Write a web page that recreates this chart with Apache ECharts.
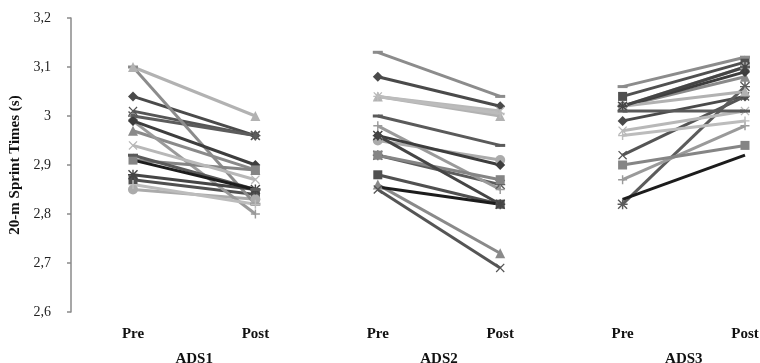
<!DOCTYPE html>
<html>
<head>
<meta charset="utf-8">
<script src="https://cdn.jsdelivr.net/npm/echarts@6/dist/echarts.min.js"></script>
<style>
  html, body { margin: 0; padding: 0; background: #fff; }
  #chart { width: 760px; height: 363px; }
</style>
</head>
<body>
<div id="chart"></div>
<script>
// Phase labels along the bottom axis and the test each pair belongs to
const phaseLabels = ['Pre', 'Post', 'Pre', 'Post', 'Pre', 'Post'];
const testLabels = ['ADS1', 'ADS2', 'ADS3'];

// 20-m sprint times (s), one entry per participant
const ads1Pre  = [3.04, 2.87, 2.97, 3.01, 3.00, 2.85, 2.99, 3.10, 2.99, 2.91, 3.10, 2.94, 2.88, 2.92, 2.86, 2.91];
const ads1Post = [2.96, 2.84, 2.89, 2.96, 2.96, 2.83, 2.80, 2.82, 2.90, 2.89, 3.00, 2.87, 2.85, 2.85, 2.82, 2.85];
const ads2Pre  = [3.08, 2.88, 2.86, 2.85, 2.92, 2.95, 2.98, 3.13, 2.96, 2.92, 3.04, 3.04, 2.96, 3.00, 3.04, 2.855];
const ads2Post = [3.02, 2.82, 2.72, 2.69, 2.86, 2.91, 2.85, 3.04, 2.90, 2.87, 3.00, 3.01, 2.82, 2.94, 3.005, 2.82];
const ads3Pre  = [2.99, 3.04, 3.02, 2.92, 2.82, 3.02, 2.87, 3.06, 3.02, 2.90, 3.02, 2.97, 3.02, 3.01, 2.96, 2.83];
const ads3Post = [3.04, 3.11, 3.08, 3.04, 3.06, 3.10, 2.98, 3.12, 3.09, 2.94, 3.05, 3.01, 3.10, 3.01, 2.99, 2.92];

// Marker shapes
const X_PATH = 'path://M1,0L5,4L9,0L10,1L6,5L10,9L9,10L5,6L1,10L0,9L4,5L0,1Z';
const PLUS_PATH = 'path://M4.2,0H5.8V4.2H10V5.8H5.8V10H4.2V5.8H0V4.2H4.2Z';
const STAR_PATH = 'path://M1,0L5,4L9,0L10,1L6,5L10,9L9,10L5,6L1,10L0,9L4,5L0,1Z' +
                  'M4.3,0H5.7V10H4.3Z M0,4.3H10V5.7H0Z';

// One drawing style per participant
const styles = [
  { symbol: 'diamond',  size: 10,      color: '#4a4a4a' },
  { symbol: 'rect',     size: 9,       color: '#505050' },
  { symbol: 'triangle', size: 10,      color: '#8a8a8a' },
  { symbol: X_PATH,     size: 9,       color: '#555555' },
  { symbol: STAR_PATH,  size: 10,      color: '#5c5c5c' },
  { symbol: 'circle',   size: 10,      color: '#ababab' },
  { symbol: PLUS_PATH,  size: 9,       color: '#9a9a9a' },
  { symbol: 'rect',     size: [10, 3], color: '#8c8c8c' },
  { symbol: 'diamond',  size: 10,      color: '#3d3d3d' },
  { symbol: 'rect',     size: 9,       color: '#858585' },
  { symbol: 'triangle', size: 10,      color: '#b2b2b2' },
  { symbol: X_PATH,     size: 9,       color: '#b8b8b8' },
  { symbol: STAR_PATH,  size: 10,      color: '#454545' },
  { symbol: 'rect',     size: [10, 3], color: '#5a5a5a' },
  { symbol: PLUS_PATH,  size: 9,       color: '#bcbcbc' },
  { symbol: 'none',     size: 0,       color: '#1c1c1c' }
];

// Test names sit halfway between each Pre/Post pair: a second axis on half steps
const halfSteps = [];
for (let k = 0; k <= (phaseLabels.length - 1) * 2; k++) {
  halfSteps.push(k % 4 === 1 ? testLabels[(k - 1) / 4] : '');
}

const pairs = [[ads1Pre, ads1Post], [ads2Pre, ads2Post], [ads3Pre, ads3Post]];

const series = [];
pairs.forEach(function (pair, g) {
  pair[0].forEach(function (pre, i) {
    const st = styles[i];
    series.push({
      type: 'line',
      xAxisIndex: 0,
      yAxisIndex: 0,
      data: [[g * 2, pre], [g * 2 + 1, pair[1][i]]],
      symbol: st.symbol,
      symbolSize: st.size,
      showAllSymbol: true,
      clip: false,
      lineStyle: { color: st.color, width: 3 },
      itemStyle: { color: st.color, borderColor: st.color, borderWidth: 0 },
      emphasis: { disabled: true },
      animation: false
    });
  });
});

const chart = echarts.init(document.getElementById('chart'), null, { renderer: 'canvas' });
const serif = '"Liberation Serif", "Times New Roman", serif';

chart.setOption({
  backgroundColor: '#ffffff',
  animation: false,
  grid: { left: 133, top: 18, right: 15, bottom: 51, containLabel: false, outerBoundsMode: 'none' },
  xAxis: [
    {
      type: 'category',
      data: phaseLabels,
      position: 'bottom',
      boundaryGap: false,
      axisLine: { show: false },
      axisTick: { show: false },
      axisLabel: {
        margin: 15,
        interval: 0,
        color: '#111',
        fontFamily: serif,
        fontWeight: 'bold',
        fontSize: 15
      },
      splitLine: { show: false }
    },
    {
      type: 'category',
      data: halfSteps,
      position: 'bottom',
      boundaryGap: false,
      axisLine: { show: false },
      axisTick: { show: false },
      axisLabel: {
        margin: 40,
        interval: 0,
        color: '#111',
        fontFamily: serif,
        fontWeight: 'bold',
        fontSize: 15
      },
      splitLine: { show: false }
    }
  ],
  yAxis: {
    type: 'value',
    min: 2.6,
    max: 3.2,
    interval: 0.1,
    offset: 62,
    name: '20-m Sprint Times (s)',
    nameLocation: 'middle',
    nameRotate: 90,
    nameGap: 31,
    nameTextStyle: { fontFamily: serif, fontWeight: 'bold', fontSize: 15, color: '#111' },
    axisLine: { show: true, lineStyle: { color: '#8a8a8a', width: 1.5 } },
    axisTick: { show: true, inside: false, length: 4, lineStyle: { color: '#8a8a8a', width: 1.5 } },
    axisLabel: {
      margin: 20,
      color: '#222',
      fontFamily: serif,
      fontSize: 14,
      formatter: function (v) { return String(+v.toFixed(1)).replace('.', ','); }
    },
    splitLine: { show: false }
  },
  series: series
});
</script>
</body>
</html>
